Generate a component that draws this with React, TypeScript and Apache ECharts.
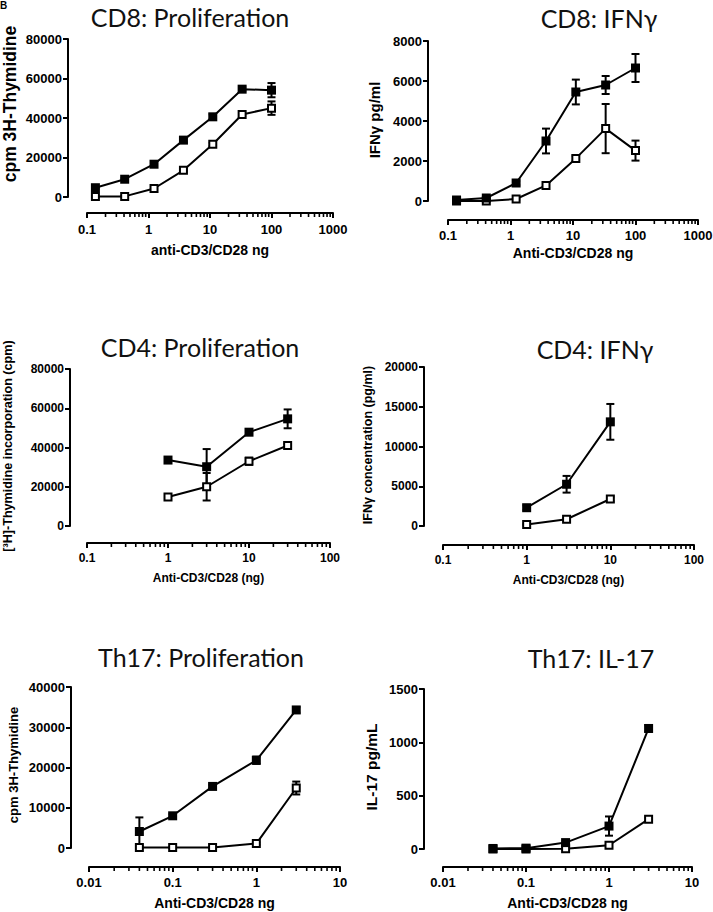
import React, { useEffect, useRef } from "react";
import * as echarts from "echarts";

// ---------- DATA ----------
const cd8X = [0.137, 0.41, 1.23, 3.7, 11.1, 33.3, 100];
const cd8ProlifFilled = [4700, 9000, 16600, 28800, 40600, 54600, 54100];
const cd8ProlifFilledErr = [400, 600, 700, 1200, 1300, 1000, 3600];
const cd8ProlifOpen = [200, 300, 4300, 13500, 26700, 41800, 45000];
const cd8ProlifOpenErr = [100, 100, 400, 600, 800, 900, 3400];

const cd8IfnFilled = [50, 150, 900, 3000, 5450, 5800, 6650];
const cd8IfnFilledErr = [40, 60, 100, 620, 620, 450, 700];
const cd8IfnOpen = [0, 0, 100, 780, 2130, 3620, 2520];
const cd8IfnOpenErr = [20, 20, 40, 100, 120, 1230, 500];

const cd4ProlifX = [1, 3, 10, 30];
const cd4ProlifFilled = [33600, 30200, 47800, 54600];
const cd4ProlifFilledErr = [900, 9000, 1000, 4800];
const cd4ProlifOpen = [14800, 20000, 33000, 41000];
const cd4ProlifOpenErr = [800, 7000, 1800, 800];

const cd4IfnX = [1, 3, 10];
const cd4IfnFilled = [2300, 5250, 13100];
const cd4IfnFilledErr = [300, 1050, 2250];
const cd4IfnOpen = [200, 850, 3400];
const cd4IfnOpenErr = [100, 150, 300];

const th17X = [0.04, 0.1, 0.3, 1, 3];
const th17ProlifFilled = [4100, 8000, 15300, 21800, 34300];
const th17ProlifFilledErr = [3500, 400, 400, 900, 700];
const th17ProlifOpen = [100, 100, 100, 1100, 14900];
const th17ProlifOpenErr = [50, 50, 50, 300, 1600];

const th17Il17Filled = [5, 8, 60, 215, 1130];
const th17Il17FilledErr = [5, 5, 15, 90, 30];
const th17Il17Open = [0, 0, 3, 35, 280];
const th17Il17OpenErr = [2, 2, 2, 10, 15];

const titles = [
  "CD8: Proliferation",
  "CD8: IFNγ",
  "CD4: Proliferation",
  "CD4: IFNγ",
  "Th17: Proliferation",
  "Th17: IL-17",
];
const xNames = [
  "anti-CD3/CD28 ng",
  "Anti-CD3/CD28 ng",
  "Anti-CD3/CD28 (ng)",
  "Anti-CD3/CD28 (ng)",
  "Anti-CD3/CD28 ng",
  "Anti-CD3/CD28 ng",
];
const yNames = [
  "cpm 3H-Thymidine",
  "IFNγ pg/ml",
  "[³H]-Thymidine incorporation (cpm)",
  "IFNγ concentration (pg/ml)",
  "cpm 3H-Thymidine",
  "IL-17 pg/mL",
];

// ---------- LAYOUT ----------
const FONT = "'Liberation Sans', Arial, Helvetica, sans-serif";
const TITLE_FONT = "Lato, 'Open Sans', sans-serif";

const panels = [
  {
    left: 87, top: 39, width: 246, height: 158, yOff: 19, xOff: 16,
    xMin: 0.1, xMax: 1000, yMax: 80000, yInt: 20000,
    x: cd8X, f: cd8ProlifFilled, fe: cd8ProlifFilledErr, o: cd8ProlifOpen, oe: cd8ProlifOpenErr,
    tickSize: 13, xNameSize: 14, xNameGap: 30, xLabMargin: 10,
    yName: [10, 104, 17.5],
    title: [190, 17],
  },
  {
    left: 448, top: 41, width: 250, height: 160, yOff: 20, xOff: 19,
    xMin: 0.1, xMax: 1000, yMax: 8000, yInt: 2000,
    x: cd8X, f: cd8IfnFilled, fe: cd8IfnFilledErr, o: cd8IfnOpen, oe: cd8IfnOpenErr,
    tickSize: 13, xNameSize: 14, xNameGap: 26, xLabMargin: 9,
    yName: [374, 120, 15],
    title: [599, 18],
  },
  {
    left: 87, top: 369, width: 243, height: 157, yOff: 17, xOff: 17,
    xMin: 0.1, xMax: 100, yMax: 80000, yInt: 20000,
    x: cd4ProlifX, f: cd4ProlifFilled, fe: cd4ProlifFilledErr, o: cd4ProlifOpen, oe: cd4ProlifOpenErr,
    tickSize: 12, xNameSize: 12, xNameGap: 29, xLabMargin: 9,
    yName: [8, 446, 12.6],
    title: [200, 347],
  },
  {
    left: 443, top: 367, width: 251, height: 159, yOff: 19, xOff: 19,
    xMin: 0.1, xMax: 100, yMax: 20000, yInt: 5000,
    x: cd4IfnX, f: cd4IfnFilled, fe: cd4IfnFilledErr, o: cd4IfnOpen, oe: cd4IfnOpenErr,
    tickSize: 12, xNameSize: 12, xNameGap: 29, xLabMargin: 9,
    yName: [368, 445, 12.5],
    title: [595, 349],
  },
  {
    left: 89, top: 687, width: 251, height: 161, yOff: 18, xOff: 19,
    xMin: 0.01, xMax: 10, yMax: 40000, yInt: 10000,
    x: th17X, f: th17ProlifFilled, fe: th17ProlifFilledErr, o: th17ProlifOpen, oe: th17ProlifOpenErr,
    tickSize: 13, xNameSize: 14, xNameGap: 29, xLabMargin: 9,
    yName: [13, 765, 13],
    title: [201, 657],
  },
  {
    left: 443, top: 689, width: 249, height: 160, yOff: 19, xOff: 18,
    xMin: 0.01, xMax: 10, yMax: 1500, yInt: 500,
    x: th17X, f: th17Il17Filled, fe: th17Il17FilledErr, o: th17Il17Open, oe: th17Il17OpenErr,
    tickSize: 13, xNameSize: 14, xNameGap: 29, xLabMargin: 9,
    yName: [371, 767, 15.5],
    title: [591, 658],
  },
];

function minorTickValues(min: number, max: number): number[] {
  const out: number[] = [];
  for (let d = min; d < max * 0.999; d *= 10) {
    for (let k = 2; k <= 9; k++) out.push(+(d * k).toPrecision(6));
  }
  return out;
}

function fmtNum(v: number): string {
  return String(+Number(v).toPrecision(6));
}

function buildOption() {
  const grid: any[] = [];
  const xAxis: any[] = [];
  const yAxis: any[] = [];
  const series: any[] = [];
  const graphic: any[] = [];

  panels.forEach((p, i) => {
    grid.push({
      left: p.left, top: p.top, width: p.width, height: p.height,
      containLabel: false, outerBoundsMode: "none",
    });
    xAxis.push({
      type: "log", logBase: 10, gridIndex: i, min: p.xMin, max: p.xMax,
      position: "bottom", offset: p.xOff,
      name: xNames[i], nameLocation: "middle", nameGap: p.xNameGap,
      nameTextStyle: { fontFamily: FONT, fontWeight: "bold", fontSize: p.xNameSize, color: "#000" },
      axisLine: { show: true, onZero: false, lineStyle: { color: "#000", width: 2 } },
      axisTick: { show: true, length: 5, lineStyle: { color: "#000", width: 2 } },
      axisLabel: {
        show: true, margin: p.xLabMargin, color: "#000", fontFamily: FONT,
        fontWeight: "bold", fontSize: p.tickSize, formatter: (v: number) => fmtNum(v),
        hideOverlap: false,
      },
      splitLine: { show: false },
      minorTick: { show: false },
    });
    yAxis.push({
      type: "value", gridIndex: i, min: 0, max: p.yMax, interval: p.yInt,
      position: "left", offset: p.yOff,
      axisLine: { show: true, onZero: false, lineStyle: { color: "#000", width: 2 } },
      axisTick: { show: true, length: 5, lineStyle: { color: "#000", width: 2 } },
      axisLabel: {
        show: true, margin: 6, color: "#000", fontFamily: FONT,
        fontWeight: "bold", fontSize: p.tickSize, formatter: (v: number) => String(v),
      },
      splitLine: { show: false },
    });

    // minor ticks on the log axis
    const xOff = p.xOff;
    series.push({
      type: "custom", xAxisIndex: i, yAxisIndex: i, silent: true, clip: false, z: 1,
      data: minorTickValues(p.xMin, p.xMax).map((v) => [v, 0]),
      encode: { x: 0, y: 1 },
      renderItem: (params: any, api: any) => {
        const c = api.coord([api.value(0), 0]);
        return {
          type: "line",
          shape: { x1: c[0], y1: c[1] + xOff, x2: c[0], y2: c[1] + xOff + 4 },
          style: { stroke: "#000", lineWidth: 1.6 },
        };
      },
    });

    // error bars
    const errData: number[][] = [];
    p.x.forEach((xv, k) => {
      errData.push([xv, p.o[k], p.oe[k]]);
      errData.push([xv, p.f[k], p.fe[k]]);
    });
    series.push({
      type: "custom", xAxisIndex: i, yAxisIndex: i, silent: true, clip: false, z: 2,
      data: errData,
      encode: { x: 0, y: 1 },
      renderItem: (params: any, api: any) => {
        const xv = api.value(0), yv = api.value(1), e = api.value(2);
        const t = api.coord([xv, yv + e]);
        const b = api.coord([xv, Math.max(0, yv - e)]);
        const hw = 4;
        const st = { stroke: "#000", lineWidth: 2 };
        return {
          type: "group",
          children: [
            { type: "line", shape: { x1: t[0], y1: t[1], x2: b[0], y2: b[1] }, style: st },
            { type: "line", shape: { x1: t[0] - hw, y1: t[1], x2: t[0] + hw, y2: t[1] }, style: st },
            { type: "line", shape: { x1: b[0] - hw, y1: b[1], x2: b[0] + hw, y2: b[1] }, style: st },
          ],
        };
      },
    });

    // open squares
    series.push({
      type: "line", xAxisIndex: i, yAxisIndex: i, z: 3, clip: false,
      data: p.x.map((xv, k) => [xv, p.o[k]]),
      symbol: "rect", symbolSize: 7, showSymbol: true, showAllSymbol: true,
      lineStyle: { color: "#000", width: 2 },
      itemStyle: { color: "#fff", borderColor: "#000", borderWidth: 2 },
    });
    // filled squares
    series.push({
      type: "line", xAxisIndex: i, yAxisIndex: i, z: 4, clip: false,
      data: p.x.map((xv, k) => [xv, p.f[k]]),
      symbol: "rect", symbolSize: 9, showSymbol: true, showAllSymbol: true,
      lineStyle: { color: "#000", width: 2 },
      itemStyle: { color: "#000", borderColor: "#000", borderWidth: 0 },
    });

    graphic.push({
      type: "text", x: p.title[0], y: p.title[1],
      style: {
        text: titles[i], fill: "#111", font: `25px ${TITLE_FONT}`,
        textAlign: "center", textVerticalAlign: "middle",
      },
    });
    graphic.push({
      type: "text", x: p.yName[0], y: p.yName[1], rotation: Math.PI / 2,
      style: {
        text: yNames[i], fill: "#000", font: `bold ${p.yName[2]}px ${FONT}`,
        textAlign: "center", textVerticalAlign: "middle",
      },
    });
  });

  graphic.push({
    type: "text", x: 0, y: 0,
    style: { text: "B", fill: "#000", font: `bold 10px ${FONT}`, textAlign: "left", textVerticalAlign: "top" },
  });

  return {
    animation: false,
    backgroundColor: "#fff",
    grid, xAxis, yAxis, series, graphic,
  };
}

export default function App() {
  const ref = useRef<HTMLDivElement>(null);
  useEffect(() => {
    if (!ref.current) return;
    const chart = echarts.init(ref.current, undefined, { renderer: "svg" });
    chart.setOption(buildOption() as any);
    return () => chart.dispose();
  }, []);
  return (
    <div
      ref={ref}
      style={{ position: "absolute", left: 0, top: 0, width: 713, height: 912, background: "#fff" }}
    />
  );
}
